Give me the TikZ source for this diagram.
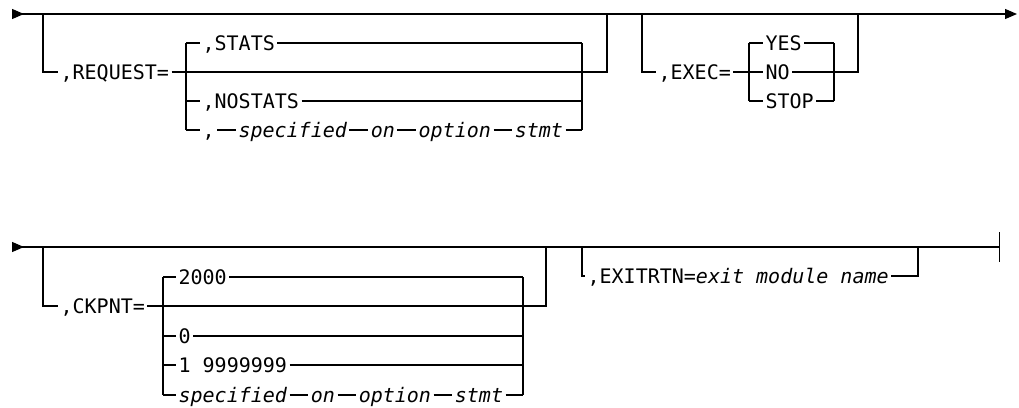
\documentclass[tikz,border=0pt]{standalone}
\usepackage{fontspec}
\setmainfont{DejaVu Sans Mono}
\usetikzlibrary{arrows.meta,positioning}

\begin{document}
\begin{tikzpicture}[
  x=0.75pt,y=-0.75pt,line width=0.9pt,node distance=14pt,
  word/.style={anchor=west,inner xsep=1.5pt,inner ysep=0pt,
    text height=10.6pt,text depth=0pt,font=\fontsize{15pt}{18pt}\selectfont},
  var/.style={word,font=\fontsize{15pt}{18pt}\selectfont\itshape},
]
  \useasboundingbox (0,0) rectangle (1019,407);

  % Row 1: REQUEST and EXEC
  \coordinate (r1start) at (12,14);
  \coordinate (r1end) at (1017,14);
  \coordinate (rqIn) at (43,14);
  \coordinate (rqOut) at (607,14);
  \coordinate (rqL) at (186,72);
  \coordinate (rqR) at (582,72);
  \coordinate (exIn) at (642,14);
  \coordinate (exOut) at (858,14);
  \coordinate (exL) at (749,72);
  \coordinate (exR) at (834,72);

  \draw[{Triangle[reversed,length=9pt,width=7.5pt]}-{Triangle[length=9pt,width=7.5pt]}]
    (r1start) -- (r1end);

  \node[word] (request) at (58,72) {,REQUEST=};
  \node[word] (rqStats) at (200,43) {,STATS};
  \node[word] (rqNostats) at (200,101) {,NOSTATS};
  \node[word] (rqComma) at (200,130) {,};
  \node[var,right=of rqComma] (rqSpec) {specified};
  \node[var,right=of rqSpec] (rqOn) {on};
  \node[var,right=of rqOn] (rqOption) {option};
  \node[var,right=of rqOption] (rqStmt) {stmt};

  \draw (rqIn) |- (request.west);
  \draw (request.east) -- (rqOut |- request) -- (rqOut);
  \draw (rqL |- rqStats) -- (rqL |- rqComma);
  \draw (rqR |- rqStats) -- (rqR |- rqStmt);
  \foreach \n in {rqStats,rqNostats,rqComma} \draw (rqL |- \n) -- (\n.west);
  \foreach \n in {rqStats,rqNostats,rqStmt} \draw (\n.east) -- (rqR |- \n);
  \draw (rqComma) -- (rqSpec) -- (rqOn) -- (rqOption) -- (rqStmt);

  \node[word] (exec) at (656,72) {,EXEC=};
  \node[word] (exYes) at (763,43) {YES};
  \node[word] (exNo) at (763,72) {NO};
  \node[word] (exStop) at (763,101) {STOP};

  \draw (exIn) |- (exec.west);
  \draw (exec.east) -- (exL |- exec);
  \draw (exR |- exNo) -- (exOut |- exec) -- (exOut);
  \draw (exL |- exYes) -- (exL |- exStop);
  \draw (exR |- exYes) -- (exR |- exStop);
  \foreach \n in {exYes,exNo,exStop} {
    \draw (exL |- \n) -- (\n.west);
    \draw (\n.east) -- (exR |- \n);
  }

  % Row 2: CKPNT and EXITRTN
  \coordinate (r2start) at (12,247);
  \coordinate (r2end) at (1000,247);
  \coordinate (ckIn) at (43,247);
  \coordinate (ckOut) at (546,247);
  \coordinate (ckL) at (163,306);
  \coordinate (ckR) at (523,306);
  \coordinate (xtIn) at (582,247);
  \coordinate (xtOut) at (918,247);

  \draw[{Triangle[reversed,length=9pt,width=7.5pt]}-{Bar[width=22pt]}]
    (r2start) -- (r2end);

  \node[word] (ckpnt) at (58,306) {,CKPNT=};
  \node[word] (ckDflt) at (176,277) {2000};
  \node[word] (ckZero) at (176,336) {0};
  \node[word] (ckRange) at (176,365) {1 9999999};
  \node[var] (ckSpec) at (176,395) {specified};
  \node[var,right=of ckSpec] (ckOn) {on};
  \node[var,right=of ckOn] (ckOption) {option};
  \node[var,right=of ckOption] (ckStmt) {stmt};

  \draw (ckIn) |- (ckpnt.west);
  \draw (ckpnt.east) -- (ckOut |- ckpnt) -- (ckOut);
  \draw (ckL |- ckDflt) -- (ckL |- ckSpec);
  \draw (ckR |- ckDflt) -- (ckR |- ckStmt);
  \foreach \n in {ckDflt,ckZero,ckRange,ckSpec} \draw (ckL |- \n) -- (\n.west);
  \foreach \n in {ckDflt,ckZero,ckRange,ckStmt} \draw (\n.east) -- (ckR |- \n);
  \draw (ckSpec) -- (ckOn) -- (ckOption) -- (ckStmt);

  \node[word] (exit) at (585,276) {,EXITRTN=\textit{exit module name}};
  \draw (xtIn) |- (exit.west);
  \draw (exit.east) -| (xtOut);
\end{tikzpicture}
\end{document}
